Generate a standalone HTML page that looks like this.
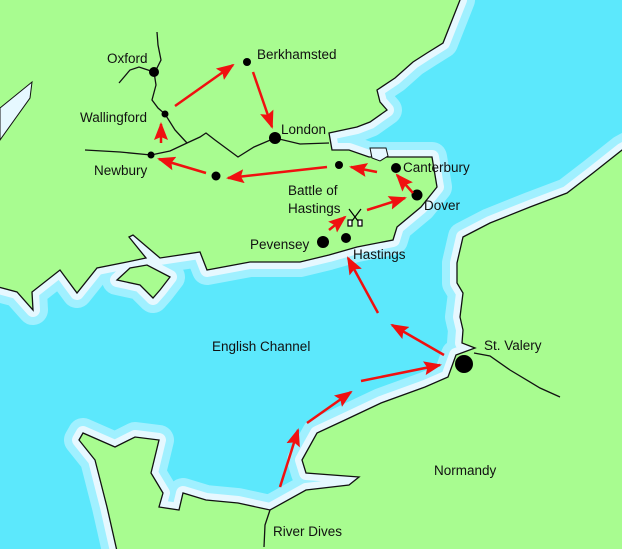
<!DOCTYPE html>
<html><head><meta charset="utf-8"><style>
html,body{margin:0;padding:0;background:#5ce8fc;}
svg{display:block;}
text{font-family:"Liberation Sans",Arial,sans-serif;font-size:13.5px;fill:#111;}
</style></head><body>
<svg width="622" height="549" viewBox="0 0 622 549" xmlns="http://www.w3.org/2000/svg">
<defs>
<path id="eng" d="M-20,-20 L462,-20 L460,0 L443,43 L427,53 L413,62 L395,78 L377,90 L380,102 L387,110 L370,122 L357,127 L329,133 L332,150 L349,150 L369,157 L432,157 L437,187 L421,207 L397,227 L393,240 L357,247 L329,255 L300,262 L250,262 L207,270 L200,252 L160,258 L133,235 L129,237 L146,258 L127,262 L97,268 L77,293 L60,270 L32,292 L33,310 L17,292 L-20,282 Z"/>
<path id="iow" d="M117,280 L130,268 L147,265 L170,277 L160,290 L153,298 L140,285 Z"/>
<path id="fra" d="M640,140 L622,150 L593,173 L567,193 L530,207 L490,223 L463,237 L457,263 L457,283 L463,293 L460,317 L463,330 L462,343 L475,348 L456,355 L448,377 L425,387 L381,403 L345,420 L317,433 L302,460 L306,473 L359,477 L349,485 L306,490 L270,510 L238,503 L206,500 L183,493 L179,510 L159,507 L163,493 L151,473 L159,440 L135,437 L115,447 L83,433 L79,440 L95,460 L107,507 L119,560 L640,560 Z"/>
<marker id="ah" markerWidth="18" markerHeight="14" refX="16" refY="7" orient="auto" markerUnits="userSpaceOnUse"><path d="M0,0 L18,7 L0,14 L3,7 Z" fill="#f01010"/></marker>
</defs>
<rect width="622" height="549" fill="#5ce8fc"/>
<g fill="#a0f0ff" stroke="#a0f0ff" stroke-width="30" stroke-linejoin="round">
<use href="#eng"/><use href="#iow"/><use href="#fra"/>
</g>
<g fill="#e6f8ff" stroke="#e6f8ff" stroke-width="14" stroke-linejoin="round">
<use href="#eng"/><use href="#iow"/><use href="#fra"/>
</g>
<g fill="#a8fc90" stroke="#111" stroke-width="1.3">
<use href="#eng"/><use href="#iow"/><use href="#fra"/>
</g>
<path d="M0,108 L32,82 L30,98 L0,140 Z" fill="#e6f8ff" stroke="#111" stroke-width="1"/>
<path d="M370,148 L386,148 L388,156 L380,161 L372,158 Z" fill="#e6f8ff" stroke="#111" stroke-width="1"/>
<g fill="none" stroke="#111" stroke-width="1.3">
<path d="M85,150 L120,152 L151,155 L170,151 L187,143 L200,137 L206,133 L215,140 L238,157 L254,147 L275,138 L300,144 L329,143"/>
<path d="M157,32 L158,45 L161,60 L156,70 L154,72 L156,85 L152,100 L158,108 L165,114 L175,130 L187,143"/>
<path d="M119,83 L130,70 L139,67 L154,72"/>
<path d="M474,353 L490,356 L510,370 L540,388 L560,397"/>
<path d="M270,510 L265,525 L264,547"/>
</g>
<g fill="#000">
<circle cx="154" cy="72" r="5"/>
<circle cx="247" cy="62" r="4"/>
<circle cx="165" cy="114" r="3.5"/>
<circle cx="275" cy="138" r="6"/>
<circle cx="151" cy="155" r="3.5"/>
<circle cx="216" cy="176" r="4.5"/>
<circle cx="339" cy="165" r="4"/>
<circle cx="396" cy="168" r="5"/>
<circle cx="417" cy="195" r="5.5"/>
<circle cx="323" cy="242" r="6"/>
<circle cx="346" cy="238" r="5"/>
<circle cx="464" cy="364" r="9"/>
</g>
<g stroke="#000" stroke-width="1.2" fill="none">
<path d="M349,209 L361,225 M361,209 L349,225"/>
<rect x="348" y="220" width="4" height="6" fill="#fff"/>
<rect x="358" y="220" width="4" height="6" fill="#fff"/>
</g>
<g stroke="#f01010" stroke-width="2.5" fill="none" marker-end="url(#ah)">
<path d="M280,487 L298,430"/>
<path d="M307,423 L351,392"/>
<path d="M361,381 L440,365"/>
<path d="M444,355 L392,325"/>
<path d="M378,313 L348,258"/>
<path d="M329,230 L345,217"/>
<path d="M367,210 L405,198"/>
<path d="M413,193 L397,175"/>
<path d="M377,172 L351,167"/>
<path d="M327,167 L228,178"/>
<path d="M206,173 L159,159"/>
<path d="M161,143 L161,124"/>
<path d="M175,106 L233,65"/>
<path d="M253,72 L272,127"/>
</g>
<text x="107" y="63">Oxford</text>
<text x="257" y="59">Berkhamsted</text>
<text x="80" y="122">Wallingford</text>
<text x="281" y="134">London</text>
<text x="94" y="175">Newbury</text>
<text x="403" y="172">Canterbury</text>
<text x="288" y="195">Battle of</text>
<text x="288" y="213">Hastings</text>
<text x="424" y="210">Dover</text>
<text x="250" y="249">Pevensey</text>
<text x="353" y="259">Hastings</text>
<text x="212" y="351">English Channel</text>
<text x="484" y="350">St. Valery</text>
<text x="434" y="475">Normandy</text>
<text x="273" y="536">River Dives</text>
</svg>
</body></html>
